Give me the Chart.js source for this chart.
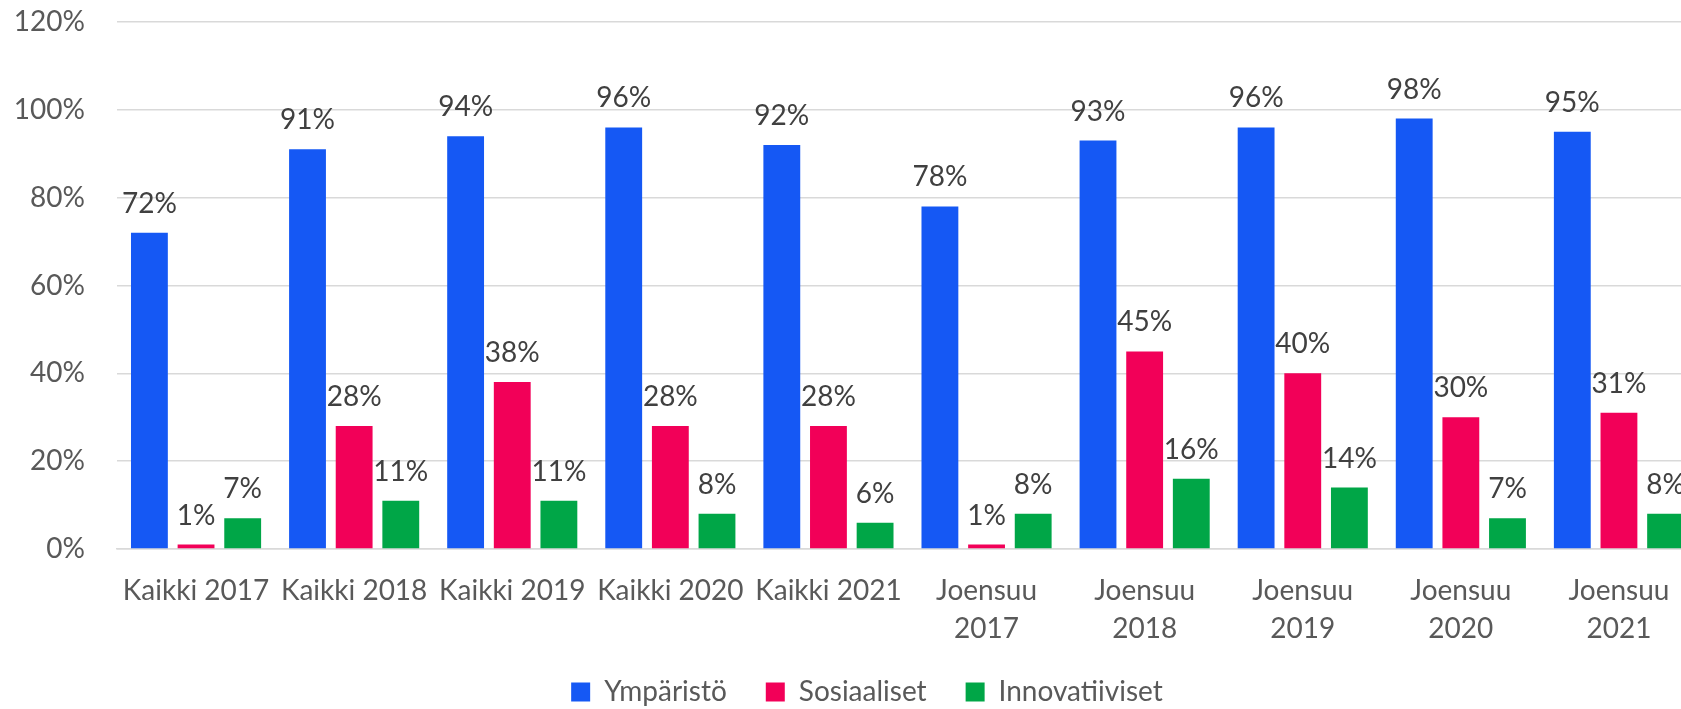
<!DOCTYPE html>
<html>
<head>
<meta charset="utf-8">
<script src="https://cdn.jsdelivr.net/npm/chart.js@4"></script>
<style>
  html, body { margin: 0; padding: 0; background: #fff; overflow: hidden; }
  #wrap { position: relative; width: 1734px; height: 716px; }
</style>
</head>
<body>
<div id="wrap"><canvas id="chart"></canvas></div>
<script>
// Data
const categories = [
  'Kaikki 2017', 'Kaikki 2018', 'Kaikki 2019', 'Kaikki 2020', 'Kaikki 2021',
  ['Joensuu', '2017'], ['Joensuu', '2018'], ['Joensuu', '2019'], ['Joensuu', '2020'], ['Joensuu', '2021']
];
const seriesNames = ['Ympäristö', 'Sosiaaliset', 'Innovatiiviset'];
const ymparisto = [72, 91, 94, 96, 92, 78, 93, 96, 98, 95];
const sosiaaliset = [1, 28, 38, 28, 28, 1, 45, 40, 30, 31];
const innovatiiviset = [7, 11, 11, 8, 6, 8, 16, 14, 7, 8];
const yTicks = [0, 20, 40, 60, 80, 100, 120];

const colors = ['#1558F4', '#F20058', '#00A647'];
const font = { family: 'Lato', size: 28 };

// Value labels above bars
const valueLabels = {
  id: 'valueLabels',
  afterDatasetsDraw(chart) {
    const ctx = chart.ctx;
    ctx.save();
    ctx.font = `${font.size}px ${font.family}`;
    ctx.fillStyle = '#404040';
    ctx.textAlign = 'center';
    ctx.textBaseline = 'alphabetic';
    chart.data.datasets.forEach((ds, i) => {
      chart.getDatasetMeta(i).data.forEach((bar, j) => {
        ctx.fillText(ds.data[j] + '%', bar.x, bar.y - 20);
      });
    });
    ctx.restore();
  }
};

// legend sits a bit right of the plot centre in the original
const legendShift = {
  id: 'legendShift',
  afterLayout(chart) {
    chart.legend.left += 18;
    chart.legend.right += 18;
  }
};

new Chart(document.getElementById('chart'), {
  type: 'bar',
  data: {
    labels: categories,
    datasets: [
      { label: seriesNames[0], data: ymparisto, backgroundColor: colors[0] },
      { label: seriesNames[1], data: sosiaaliset, backgroundColor: colors[1] },
      { label: seriesNames[2], data: innovatiiviset, backgroundColor: colors[2] }
    ]
  },
  options: {
    responsive: true,
    maintainAspectRatio: false,
    animation: false,
    categoryPercentage: 0.885,
    barPercentage: 0.79,
    layout: { padding: { top: 22, right: 36, left: 0, bottom: 0 } },
    plugins: {
      tooltip: { enabled: false },
      legend: {
        position: 'bottom',
        labels: {
          font: font,
          color: '#595959',
          boxWidth: 19,
          boxHeight: 19,
          padding: 39
        }
      }
    },
    scales: {
      x: {
        grid: { display: false, drawTicks: false },
        border: { color: '#d9d9d9', width: 1.5 },
        ticks: { font: { ...font, lineHeight: 1.36 }, color: '#595959', padding: 23, maxRotation: 0, autoSkip: false },
        afterFit(scale) { scale.height = 90; }
      },
      y: {
        min: 0,
        max: 120,
        afterBuildTicks(scale) { scale.ticks = yTicks.map(v => ({ value: v })); },
        grid: { color: '#d9d9d9', lineWidth: 1.5, drawTicks: true, tickLength: 32, tickColor: 'rgba(0,0,0,0)' },
        border: { display: false },
        ticks: {
          font: font,
          color: '#595959',
          padding: 0,
          callback: v => v + '%'
        },
        afterFit(scale) { scale.width = 117; }
      }
    }
  },
  plugins: [valueLabels, legendShift]
});
</script>
</body>
</html>
